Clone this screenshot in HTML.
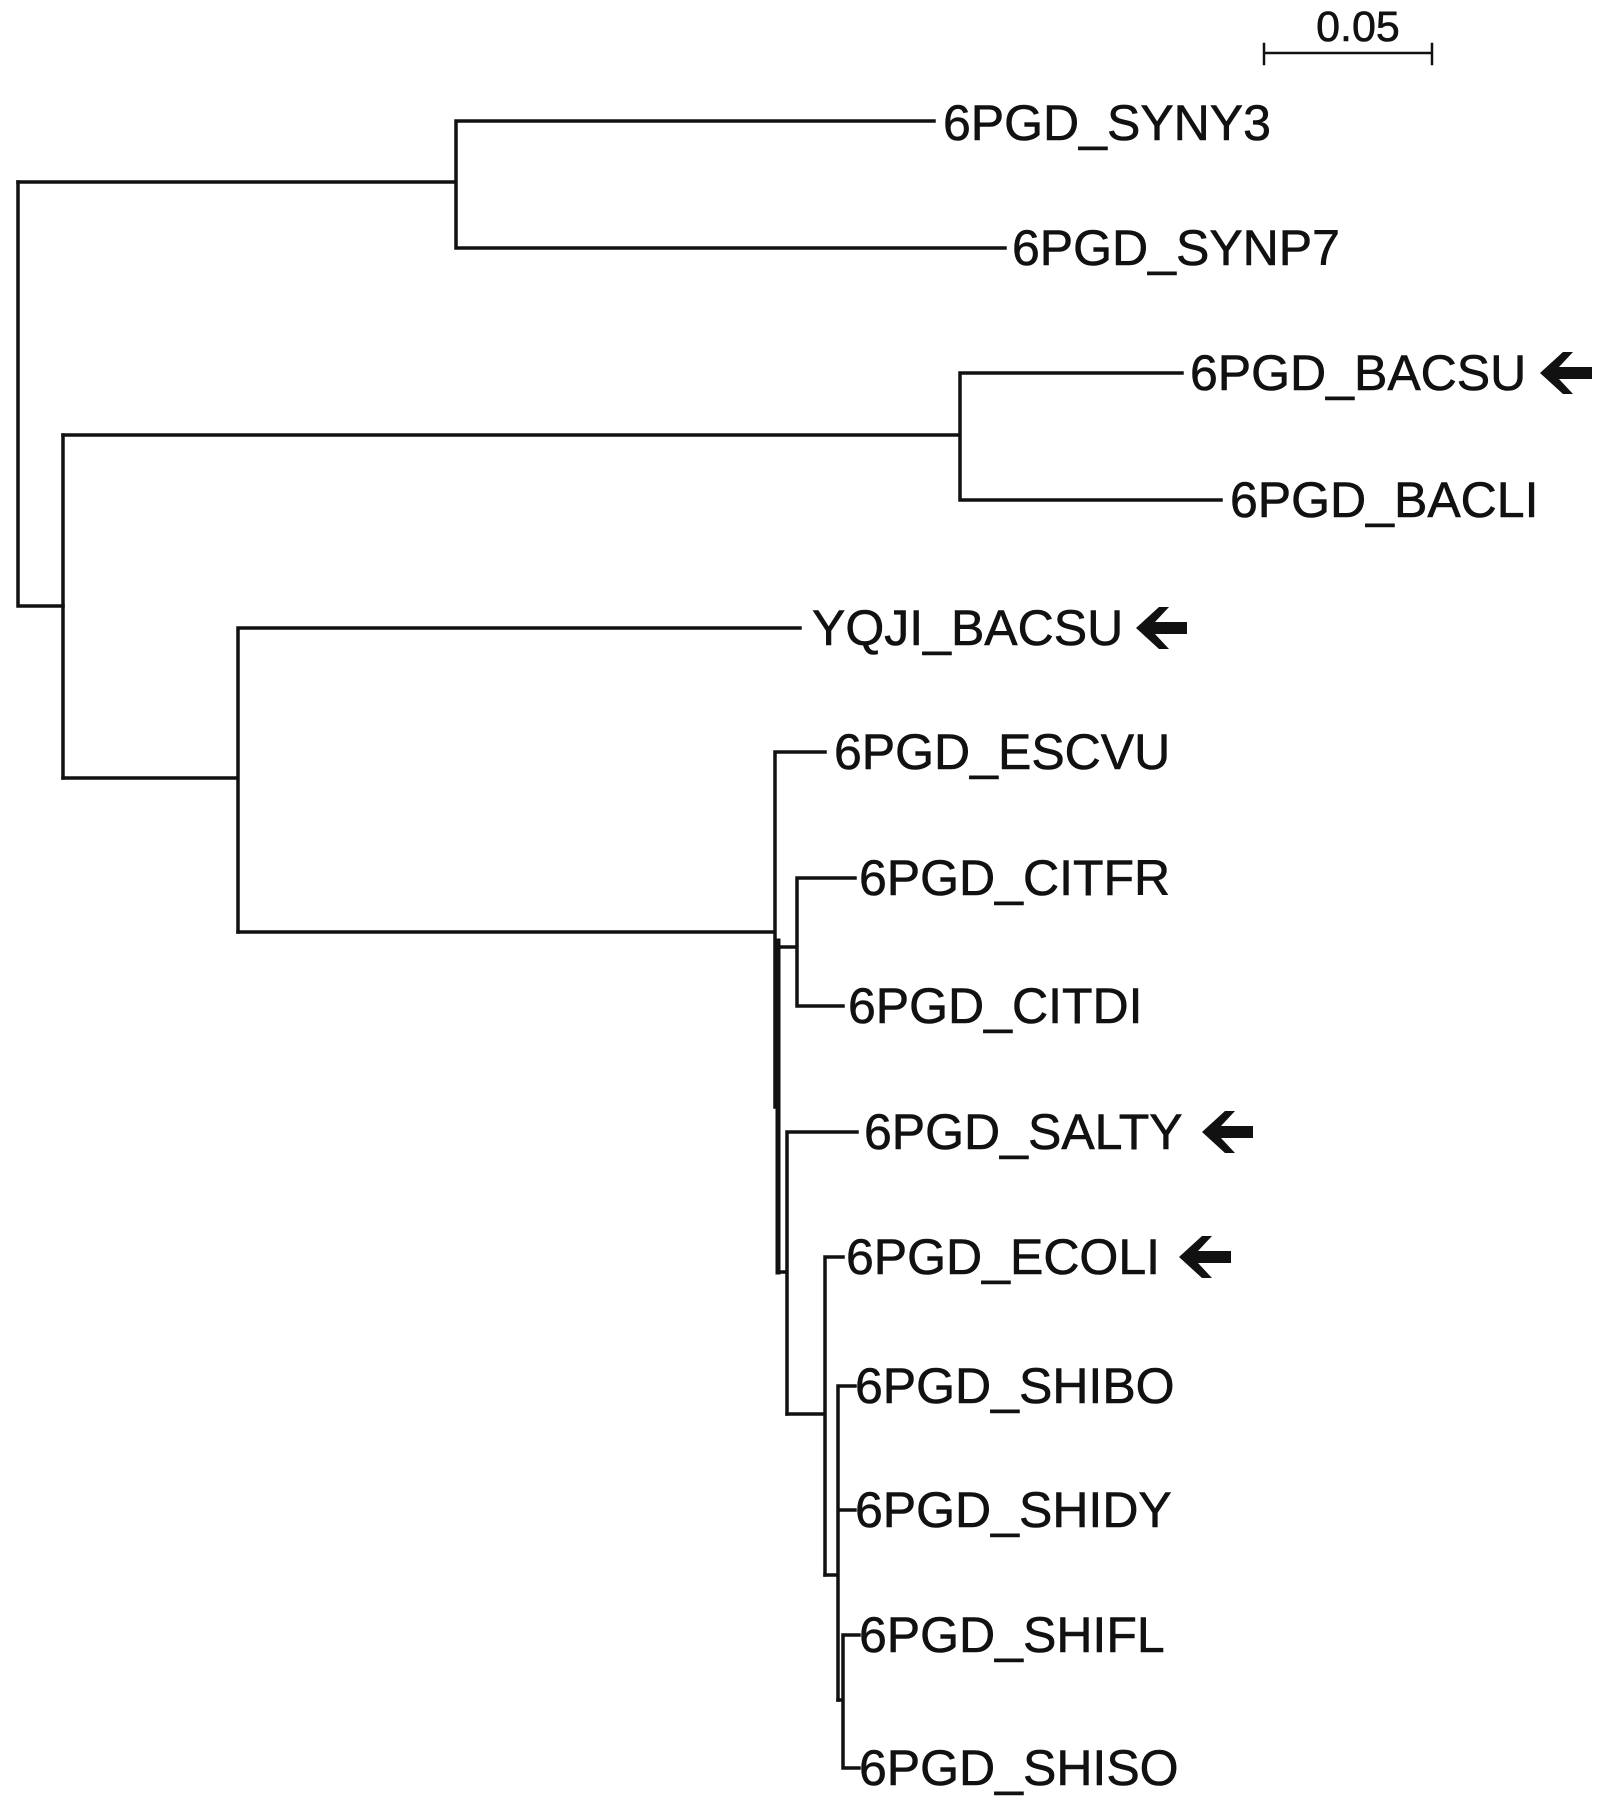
<!DOCTYPE html>
<html><head><meta charset="utf-8"><style>
html,body{margin:0;padding:0;background:#fff;}
svg{display:block}
text{font-family:"Liberation Sans",Arial,sans-serif;font-size:50px;fill:#111;stroke:#111;stroke-width:0.6}
</style></head><body>
<svg width="1608" height="1800" viewBox="0 0 1608 1800" xmlns="http://www.w3.org/2000/svg">
<g transform="translate(3,0)">
<g stroke="#111" stroke-width="3.5" fill="none" stroke-linecap="square">
<path d="M1261 53 H1429 M1261 44 V64 M1429 44 V64" stroke-width="2.5"/>
<path d="M15 182 V606 H60"/>
<path d="M15 182 H453 M453 121 V248 M453 121 H931 M453 248 H1002"/>
<path d="M60 435 V778"/>
<path d="M60 435 H957 M957 373 V500 M957 373 H1179 M957 500 H1218"/>
<path d="M60 778 H235 M235 628 V932 M235 628 H797"/>
<path d="M235 932 H772 M772 752 V1107 M772 752 H822"/>
<path d="M774 947 H794 M794 878 V1006 M794 878 H852 M794 1006 H840"/>
<path d="M775 941 V1272" stroke-width="5"/>
<path d="M775 1272 H784 M784 1132 V1414 M784 1132 H854"/>
<path d="M784 1414 H822 M822 1257 V1575 M822 1257 H840"/>
<path d="M822 1575 H835 M835 1386 V1700 M835 1386 H852 M835 1510 H852"/>
<path d="M835 1700 H840 M840 1635 V1768 M840 1635 H856 M840 1768 H856"/>
</g>
<text x="1355" y="41" text-anchor="middle" style="font-size:43px">0.05</text>
<text x="940" y="140">6PGD_SYNY3</text>
<text x="1009" y="265">6PGD_SYNP7</text>
<text x="1187" y="390">6PGD_BACSU</text>
<text x="1227" y="517">6PGD_BACLI</text>
<text x="809" y="645">YQJI_BACSU</text>
<text x="831" y="769">6PGD_ESCVU</text>
<text x="856" y="895">6PGD_CITFR</text>
<text x="845" y="1023">6PGD_CITDI</text>
<text x="861" y="1149">6PGD_SALTY</text>
<text x="843" y="1274">6PGD_ECOLI</text>
<text x="852" y="1403">6PGD_SHIBO</text>
<text x="852" y="1527">6PGD_SHIDY</text>
<text x="856" y="1652">6PGD_SHIFL</text>
<text x="856" y="1785">6PGD_SHISO</text>
<g fill="#111">
<path d="M1537 373 L1560 352 L1570 352 L1556 367 L1589 367 L1589 379 L1556 379 L1570 394 L1560 394 Z"/>
<path d="M1133 628 L1156 607 L1166 607 L1152 622 L1184 622 L1184 634 L1152 634 L1166 649 L1156 649 Z"/>
<path d="M1199 1132 L1222 1111 L1232 1111 L1218 1126 L1250 1126 L1250 1138 L1218 1138 L1232 1153 L1222 1153 Z"/>
<path d="M1176 1257 L1199 1236 L1209 1236 L1195 1251 L1228 1251 L1228 1263 L1195 1263 L1209 1278 L1199 1278 Z"/>
</g>
</g>
</svg>
</body></html>
